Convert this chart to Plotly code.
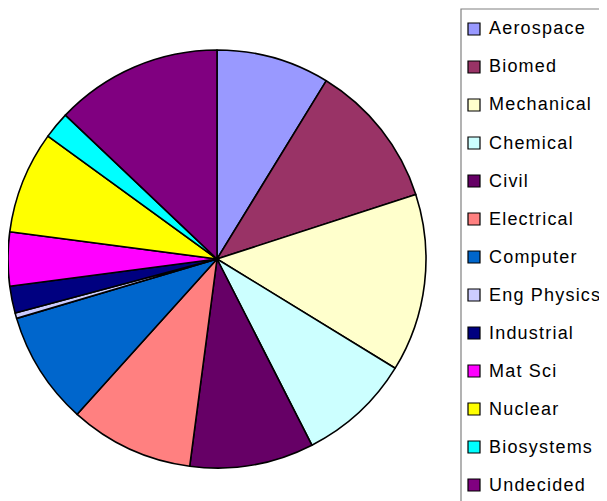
import plotly.graph_objects as go

categories = ["Aerospace", "Biomed", "Mechanical", "Chemical", "Civil", "Electrical",
              "Computer", "Eng Physics", "Industrial", "Mat Sci", "Nuclear",
              "Biosystems", "Undecided"]
counts = [21, 27, 33, 21, 23, 23, 21, 1, 5, 10, 19, 5, 31]
colors = ["#9999FF", "#993366", "#FFFFCC", "#CCFFFF", "#660066", "#FF8080",
          "#0066CC", "#CCCCFF", "#000080", "#FF00FF", "#FFFF00", "#00FFFF", "#800080"]

W, H = 607, 501
OFF = 8  # page body margin offset
cx, cy, r = 217 - OFF, 259 - OFF, 209

fig = go.Figure(go.Pie(
    labels=categories, values=counts, sort=False, direction="clockwise",
    rotation=0, textinfo="none", hoverinfo="label+value+percent",
    marker=dict(colors=colors, line=dict(color="black", width=1.6)),
    domain=dict(x=[(cx - r) / W, (cx + r) / W], y=[1 - (cy + r) / H, 1 - (cy - r) / H]),
    showlegend=False,
))

def px(x):
    return (x - OFF) / W

def py(y):
    return 1 - (y - OFF) / H

shapes = [dict(type="rect", xref="paper", yref="paper",
               x0=px(461), x1=px(660), y0=py(540), y1=py(9),
               line=dict(color="#808080", width=1.2), fillcolor="rgba(0,0,0,0)")]
annotations = []
for i, (name, col) in enumerate(zip(categories, colors)):
    yc = 29 + 38 * i
    shapes.append(dict(type="rect", xref="paper", yref="paper",
                       x0=px(468), x1=px(480), y0=py(yc + 6), y1=py(yc - 6),
                       line=dict(color="black", width=1.2), fillcolor=col))
    annotations.append(dict(xref="paper", yref="paper", x=px(487), y=py(yc - 0.5),
                            xanchor="left", yanchor="middle", showarrow=False,
                            text=f'<span style="letter-spacing:1.2px">{name}</span>',
                            font=dict(family="Liberation Sans, Arial", size=18, color="black")))

fig.update_layout(width=W, height=H, margin=dict(l=0, r=0, t=0, b=0),
                  paper_bgcolor="white", plot_bgcolor="white",
                  shapes=shapes, annotations=annotations)
fig.write_html("out.html")
